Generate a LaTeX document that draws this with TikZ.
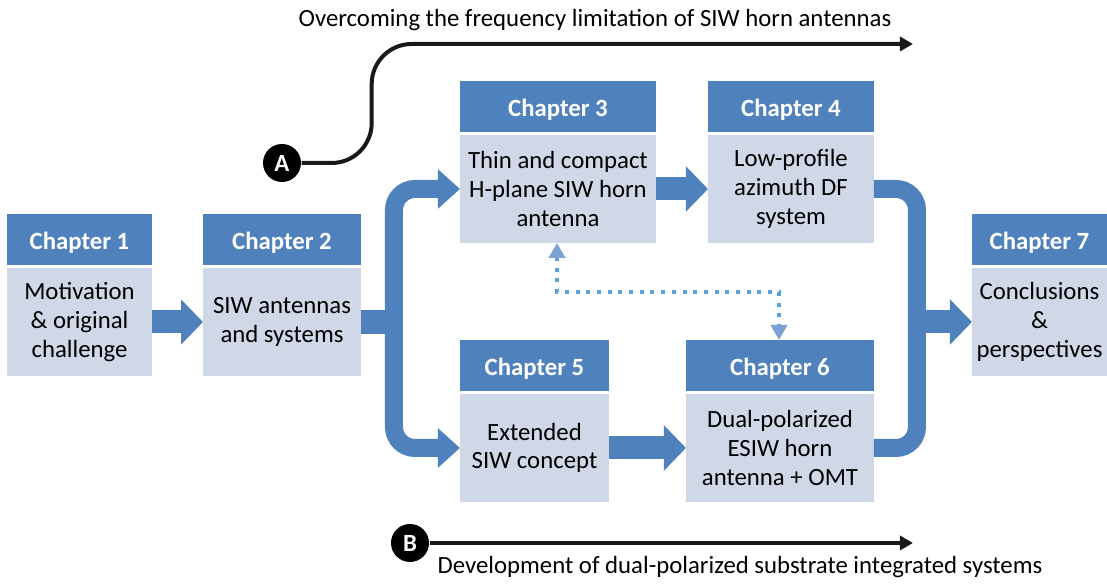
\documentclass[tikz,border=0pt]{standalone}
\usepackage{fontspec}
\setmainfont{Carlito}
\usetikzlibrary{arrows.meta,positioning}
\definecolor{chblue}{HTML}{4F81BD}
\definecolor{chlight}{HTML}{D0D8E8}
\definecolor{dotblue}{HTML}{5BA3DC}
\definecolor{tipblue}{HTML}{7BA0D4}

\begin{document}
\begin{tikzpicture} [{head/.style={rectangle,fill=chblue,text=white,font=\fontsize{7.05}{8.2}\selectfont\bfseries,minimum height=0.51cm,text height=0.8em,text depth=0.22em,inner sep=0,outer sep=0}},{body/.style={rectangle,fill=chlight,text=black,font=\fontsize{7.05}{8.2}\selectfont,minimum height=1.08cm,align=center,inner sep=0,outer sep=0}},{block/.style={chblue,line width=0.23cm,-{Triangle[length=0.22cm,width=0.44cm]}}},{elbow/.style={chblue,line width=0.18cm,rounded corners=0.21cm}},{dotlink/.style={dotblue,line width=0.04cm,dash pattern=on 0.04cm off 0.067cm}},{track/.style={black!90,line width=0.04cm,-{Triangle[length=0.13cm,width=0.14cm]}}},{letter/.style={circle,fill=black,text=white,font=\fontsize{7.05}{8.2}\selectfont\bfseries,minimum size=0.38cm,inner sep=0}}]
		\useasboundingbox (0,0) rectangle (11.07,5.84);
		%%chapter bodies
		\node[body,minimum width=1.45cm] (c1b) at (0.795,2.62) {Motivation\\\& original\\challenge};
		\node[body,minimum width=1.58cm] (c2b) at (2.82,2.62) {SIW antennas\\and systems};
		\node[body,minimum width=1.96cm] (c3b) at (5.58,3.95) {Thin and compact\\H-plane SIW horn\\antenna};
		\node[body,minimum width=1.66cm] (c4b) at (7.91,3.95) {Low-profile\\azimuth DF\\system};
		\node[body,minimum width=1.49cm] (c5b) at (5.345,1.36) {Extended\\SIW concept};
		\node[body,minimum width=1.88cm] (c6b) at (7.80,1.36) {Dual-polarized\\ESIW horn\\antenna + OMT};
		\node[body,minimum width=1.35cm] (c7b) at (10.395,2.62) {Conclusions\\\&\\perspectives};
		%%chapter headers
		\node[head,minimum width=1.45cm,above=0.03cm of c1b] (c1h) {Chapter 1};
		\node[head,minimum width=1.58cm,above=0.03cm of c2b] (c2h) {Chapter 2};
		\node[head,minimum width=1.96cm,above=0.03cm of c3b] (c3h) {Chapter 3};
		\node[head,minimum width=1.66cm,above=0.03cm of c4b] (c4h) {Chapter 4};
		\node[head,minimum width=1.49cm,above=0.03cm of c5b] (c5h) {Chapter 5};
		\node[head,minimum width=1.88cm,above=0.03cm of c6b] (c6h) {Chapter 6};
		\node[head,minimum width=1.35cm,above=0.03cm of c7b] (c7h) {Chapter 7};
		
		%%block arrows
		\draw[block] (c1b.east) -- (c2b.west);
		\draw[block] (c3b.east) -- (c4b.west);
		\draw[block] (c5b.east) -- (c6b.west);
		%%fork after chapter 2
		\coordinate (fork) at (3.94,2.62);
		\draw[chblue,line width=0.24cm] (c2b.east) -- ([xshift=0.09cm]fork);
		\draw[elbow,-{Triangle[length=0.22cm,width=0.38cm]}] (fork) |- (c3b.west);
		\draw[elbow,-{Triangle[length=0.22cm,width=0.38cm]}] (fork) |- (c5b.west);
		%%join before chapter 7
		\coordinate (join) at (9.17,2.62);
		\draw[elbow] (c4b.east) -| (join) |- (c6b.east);
		\draw[block] (join) -- (c7b.west);
		%%dotted link 3-6
		\coordinate (dl) at (5.57,2.92);
		\coordinate (dr) at (7.79,2.92);
		\draw[dotlink,{Triangle[length=0.15cm,width=0.16cm,color=tipblue]}-{Triangle[length=0.15cm,width=0.16cm,color=tipblue]}] (dl |- c3b.south) -- (dl) -- (dr) -- (dr |- c6h.north);
		
		%%paths A and B
		\node[letter] (nA) at (2.82,4.21) {A};
		\coordinate (aEnd) at (9.13,5.40);
		\draw[track,rounded corners=0.4cm] (nA.east) -- ++(0.70,0) |- (aEnd);
		\node[letter] (nB) at (4.10,0.41) {B};
		\coordinate (bEnd) at (9.13,0.41);
		\draw[track] (nB) -- (bEnd);
		\node[font=\fontsize{7.05}{8.2}\selectfont] (ttop) at (5.95,5.64) {Overcoming the frequency limitation of SIW horn antennas};
		\node[font=\fontsize{7.05}{8.2}\selectfont] (tbot) at (7.40,0.17) {Development of dual-polarized substrate integrated systems};
	\end{tikzpicture}
\end{document}
